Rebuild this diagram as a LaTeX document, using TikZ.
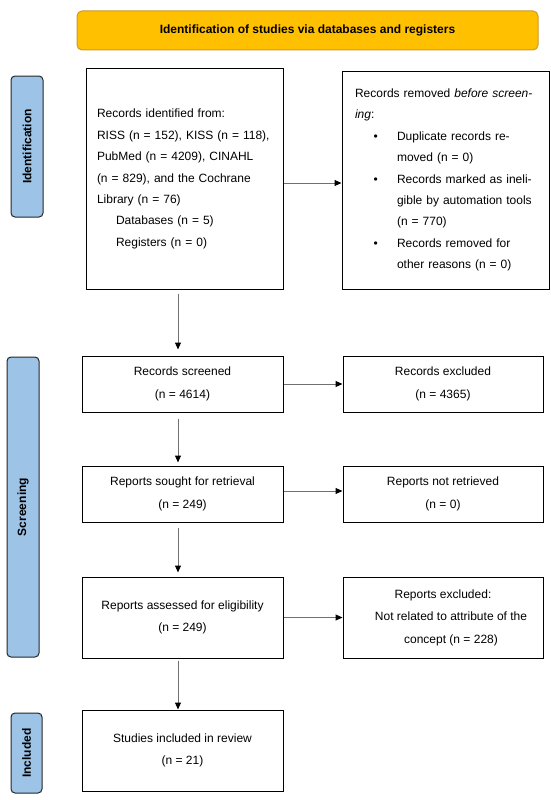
\documentclass[tikz,border=0pt]{standalone}
\usepackage{fontspec}
\setmainfont{Liberation Sans}
\usetikzlibrary{arrows.meta}
\definecolor{gold}{HTML}{FFC000}
\definecolor{goldedge}{HTML}{C99A2E}
\definecolor{sideblue}{HTML}{9DC3E6}
\definecolor{arrgray}{HTML}{707070}
\begin{document}
\begin{tikzpicture}[x=1pt,y=-1pt,
  box/.style={draw=black, line width=1pt, fill=white, inner sep=0pt,
    font=\fontsize{12}{22.5}\selectfont, align=center},
  listbox/.style={draw=black, line width=1pt, fill=white, inner ysep=0pt,
    font=\fontsize{12}{21.4}\selectfont, align=left},
  side/.style={draw=black!85, fill=sideblue, line width=1pt, rounded corners=4pt,
    rotate=90, font=\bfseries\fontsize{12}{14}\selectfont, inner sep=0pt},
  banner/.style={draw=goldedge, fill=gold, line width=1pt, rounded corners=5pt,
    font=\bfseries\fontsize{12}{14}\selectfont, inner sep=0pt},
  flow/.style={draw=arrgray, line width=1pt, -{Triangle[length=7pt,width=6pt,color=black]}},
]
\useasboundingbox (0,0) rectangle (550,800);

% header
\node[banner, minimum width=461pt, minimum height=39pt] (head) at (307.5,30.5)
  {Identification of studies via databases and registers};

% side labels
\node[side, minimum width=141pt, minimum height=32pt] (lid) at (27,146.5) {Identification};
\node[side, minimum width=300pt, minimum height=32pt] (lscr) at (23,507) {Screening};
\node[side, minimum width=80pt, minimum height=31pt] (linc) at (26.5,753) {Included};

% identification
\node[listbox, text width=175pt, inner xsep=11pt, minimum height=220pt] (id) at (184.5,179)
  {Records identified from:\\
   RISS (n = 152), KISS (n = 118),\\
   PubMed (n = 4209), CINAHL\\
   (n = 829), and the Cochrane\\
   Library (n = 76)\\
   \hspace*{19pt}Databases (n = 5)\\
   \hspace*{19pt}Registers (n = 0)};

\node[listbox, text width=181pt, inner xsep=13pt, minimum height=218pt] (rm) at (445.5,180)
  {Records removed \textit{before screen-}\\
   \textit{ing}:\\
   \hspace*{18.5pt}\makebox[23.5pt][l]{\textbullet}Duplicate records re-\\
   \hspace*{42pt}moved (n = 0)\\
   \hspace*{18.5pt}\makebox[23.5pt][l]{\textbullet}Records marked as ineli-\\
   \hspace*{42pt}gible by automation tools\\
   \hspace*{42pt}(n = 770)\\
   \hspace*{18.5pt}\makebox[23.5pt][l]{\textbullet}Records removed for\\
   \hspace*{42pt}other reasons (n = 0)};

% screening
\node[box, minimum width=201pt, minimum height=56pt] (scr) at (182.5,384)
  {Records screened\\(n = 4614)};
\node[box, minimum width=200pt, minimum height=56pt] (exc) at (443,384)
  {Records excluded\\(n = 4365)};
\node[box, minimum width=201pt, minimum height=56pt] (sought) at (182.5,494)
  {Reports sought for retrieval\\(n = 249)};
\node[box, minimum width=200pt, minimum height=56pt] (notret) at (443,494)
  {Reports not retrieved\\(n = 0)};
\node[box, minimum width=201pt, minimum height=81pt] (assess) at (182.5,617.5)
  {Reports assessed for eligibility\\(n = 249)};
\node[box, minimum width=200pt, minimum height=81pt] (rexcl) at (443,617.5)
  {Reports excluded:\\
   \hspace*{16pt}Not related to attribute of the\\
   \hspace*{16pt}concept (n = 228)};

% included
\node[box, minimum width=201pt, minimum height=81pt] (incl) at (182.5,750.5)
  {Studies included in review\\(n = 21)};

% connectors
\coordinate (ax) at (178,0);
\draw[flow, shorten <=4pt, shorten >=6pt] (id.south -| ax) -- (scr.north -| ax);
\draw[flow, shorten <=6pt, shorten >=3pt] (scr.south -| ax) -- (sought.north -| ax);
\draw[flow, shorten <=5pt, shorten >=4pt] (sought.south -| ax) -- (assess.north -| ax);
\draw[flow, shorten <=2pt] (assess.south -| ax) -- (incl.north -| ax);

\draw[flow] ([yshift=-4pt]id.east) -- ([yshift=-4pt]id.east -| rm.west);
\draw[flow] (scr.east) -- (exc.west);
\draw[flow] ([yshift=3pt]sought.east) -- ([yshift=3pt]sought.east -| notret.west);
\draw[flow] (assess.east) -- (rexcl.west);
\end{tikzpicture}
\end{document}
